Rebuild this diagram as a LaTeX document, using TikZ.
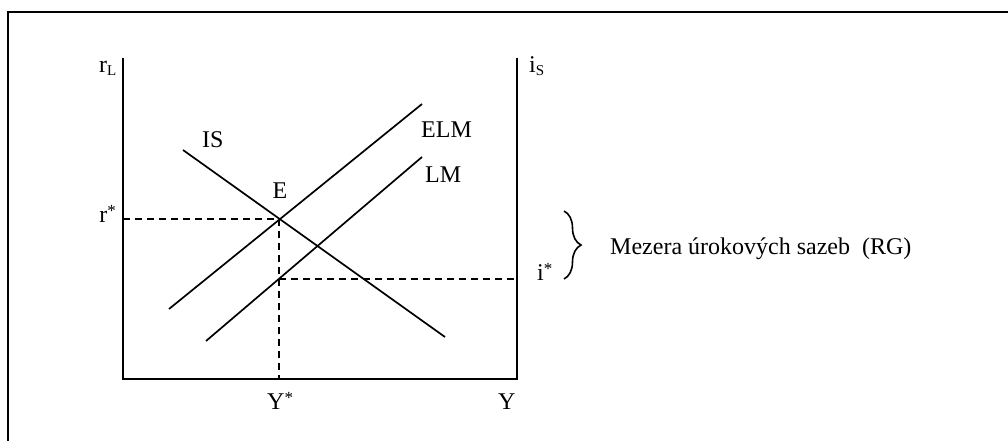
\documentclass[tikz,border=0pt]{standalone}
\usepackage{fontspec}
\setmainfont{Liberation Serif}
\usetikzlibrary{decorations.pathreplacing}
\begin{document}
\begin{tikzpicture}[x=1pt,y=-1pt,
  axis/.style={line width=1.8pt},
  curve/.style={line width=1.7pt},
  guide/.style={line width=1.6pt,dash pattern=on 7pt off 5pt},
  lab/.style={inner sep=0pt,font=\fontsize{24}{28}\selectfont},
  frame/.style={line width=2pt}]
\useasboundingbox (0,0) rectangle (1008,441);
% frame
\coordinate (fb) at (8,442);
\coordinate (fc) at (8,12.5);
\coordinate (fr) at (1009,12.5);
\draw[frame] (fb) -- (fc) -- (fr);
% axes
\coordinate (lt) at (123,58);
\coordinate (o) at (123,379);
\coordinate (rb) at (517,379);
\coordinate (rt) at (517,58);
\draw[axis] (lt) -- (o) -- (rb) -- (rt);
% curves
\coordinate (is1) at (183,150);
\coordinate (is2) at (445,337);
\coordinate (elm1) at (169,309);
\coordinate (elm2) at (422,104);
\coordinate (lm1) at (206,341);
\coordinate (lm2) at (422,157);
\draw[curve] (is1) -- (is2);
\draw[curve] (elm1) -- (elm2);
\draw[curve] (lm1) -- (lm2);
% guides
\coordinate (E) at (279,219);
\coordinate (rs) at (123,219);
\coordinate (ys) at (279,379);
\coordinate (Lp) at (279,279);
\coordinate (is) at (517,279);
\draw[guide] (rs) -- (E) -- (ys);
\draw[guide] (Lp) -- (is);
% labels
\node[lab,anchor=base west] (rL) at (99,73) {r\raisebox{-3pt}{\fontsize{15}{16}\selectfont L}};
\node[lab,anchor=base west] (iS) at (529,73) {i\raisebox{-3pt}{\fontsize{15}{16}\selectfont S}};
\node[lab,anchor=base west] (IS) at (202,147) {IS};
\node[lab,anchor=base] (El) at (280,198) {E};
\node[lab,anchor=base west] (ELM) at (421,137) {ELM};
\node[lab,anchor=base west] (LM) at (425,182) {LM};
\node[lab,anchor=base east] (rstar) at (116,222) {r\raisebox{6pt}{\fontsize{17}{18}\selectfont *}};
\node[lab,anchor=base west] (istar) at (537,280) {i\raisebox{6pt}{\fontsize{17}{18}\selectfont *}};
\node[lab,anchor=base west] (Ystar) at (267,409) {Y\raisebox{6pt}{\fontsize{17}{18}\selectfont *}};
\node[lab,anchor=base west] (Y) at (498,409) {Y};
% brace
\coordinate (b1) at (564,211);
\coordinate (b2) at (564,279);
\draw[line width=1.6pt,decorate,decoration={brace,amplitude=17pt,aspect=0.5}] (b1) -- (b2);
\node[lab,anchor=base west] (RG) at (610,254) {Mezera úrokových sazeb\ \ (RG)};
\end{tikzpicture}
\end{document}
